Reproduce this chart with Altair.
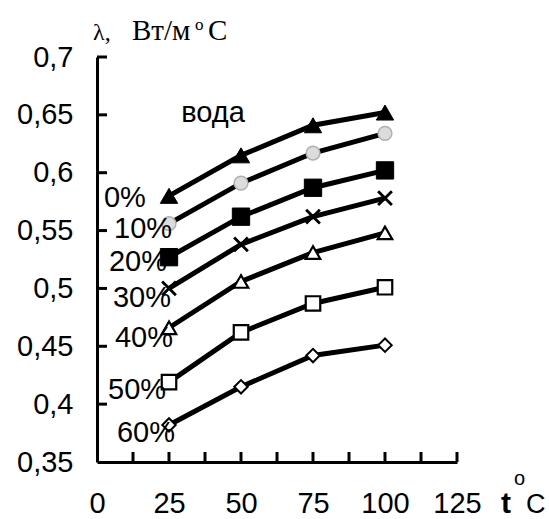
import altair as alt
import pandas as pd

# Thermal conductivity of aqueous solutions vs temperature
temps = [25, 50, 75, 100]
series = ["0%", "10%", "20%", "30%", "40%", "50%", "60%"]
lam_0 = [0.580, 0.615, 0.641, 0.652]
lam_10 = [0.556, 0.591, 0.617, 0.634]
lam_20 = [0.527, 0.562, 0.587, 0.602]
lam_30 = [0.500, 0.538, 0.562, 0.578]
lam_40 = [0.466, 0.506, 0.531, 0.548]
lam_50 = [0.419, 0.462, 0.487, 0.501]
lam_60 = [0.382, 0.415, 0.442, 0.451]
values = [lam_0, lam_10, lam_20, lam_30, lam_40, lam_50, lam_60]

# Curve labels and where they sit (data coordinates)
label_text = ["вода", "0%", "10%", "20%", "30%", "40%", "50%", "60%"]
label_t = [40.3, 9.7, 16.0, 14.2, 15.6, 16.3, 13.9, 17.0]
label_lam = [0.652, 0.578, 0.551, 0.523, 0.492, 0.457, 0.412, 0.375]

x_ticks = [0, 25, 50, 75, 100, 125]
x_minor = [12.5, 25, 37.5, 50, 62.5, 75, 87.5, 100, 112.5, 125]
y_ticks = [0.35, 0.4, 0.45, 0.5, 0.55, 0.6, 0.65, 0.7]

rows = []
for name, vals in zip(series, values):
    for t, v in zip(temps, vals):
        rows.append({"series": name, "t": t, "lam": v})
df = pd.DataFrame(rows)

SANS = "Liberation Sans"
SERIF = "Liberation Serif"
FS = 29

x_scale = alt.Scale(domain=[0, 125], nice=False, zero=False)
y_scale = alt.Scale(domain=[0.35, 0.7], nice=False, zero=False)

x_axis = alt.Axis(values=x_ticks, ticks=False, grid=False, domainWidth=3,
                  domainColor="black", labelFont=SANS, labelFontSize=FS,
                  labelColor="black", labelPadding=27, title=None,
                  labelAlign="center", labelFlush=False, labelOverlap=False)
y_axis = alt.Axis(values=y_ticks, ticks=False, grid=False, domainWidth=3,
                  domainColor="black", labelFont=SANS, labelFontSize=FS,
                  labelColor="black", labelPadding=24, title=None,
                  labelAlign="right", labelBaseline="middle",
                  labelFlush=False, labelOverlap=False,
                  labelExpr="replace(format(datum.value, '.2~f'), '.', ',')")

# inward ticks on both axes
xt = pd.DataFrame({"t": x_minor})
x_tick_rules = alt.Chart(xt).mark_rule(color="black", strokeWidth=3).encode(
    x=alt.X("t:Q", scale=x_scale, axis=x_axis), y=alt.value(405), y2=alt.value(395))
yt = pd.DataFrame({"lam": y_ticks[1:]})
y_tick_rules = alt.Chart(yt).mark_rule(color="black", strokeWidth=3).encode(
    y=alt.Y("lam:Q", scale=y_scale, axis=y_axis), x=alt.value(0), x2=alt.value(10))

base = alt.Chart(df)

lines = base.mark_line(color="black", strokeWidth=5).encode(
    x=alt.X("t:Q", scale=x_scale, axis=x_axis),
    y=alt.Y("lam:Q", scale=y_scale, axis=y_axis),
    detail="series:N")

# marker style per curve
marker = {
    "0%": dict(shape="triangle-up", fill="black", stroke="black", size=300, strokeWidth=1),
    "10%": dict(shape="circle", fill="#dcdcdc", stroke="#b0b0b0", size=190, strokeWidth=1.5),
    "20%": dict(shape="square", fill="black", stroke="black", size=300, strokeWidth=1),
    "30%": dict(shape="M-1,-1L1,1M-1,1L1,-1", fill="none", stroke="black", size=190, strokeWidth=2.8),
    "40%": dict(shape="triangle-up", fill="white", stroke="black", size=210, strokeWidth=2.2),
    "50%": dict(shape="square", fill="white", stroke="black", size=210, strokeWidth=2.2),
    "60%": dict(shape="diamond", fill="white", stroke="black", size=180, strokeWidth=2),
}

point_layers = []
for name in series:
    st = marker[name]
    point_layers.append(
        base.transform_filter(alt.datum.series == name).mark_point(
            shape=st["shape"], fill=st["fill"], stroke=st["stroke"],
            size=st["size"], strokeWidth=st["strokeWidth"], opacity=1,
            fillOpacity=1, filled=st["fill"] != "none",
        ).encode(x=alt.X("t:Q", scale=x_scale), y=alt.Y("lam:Q", scale=y_scale))
    )

labels_df = pd.DataFrame({"text": label_text, "t": label_t, "lam": label_lam})
labels = alt.Chart(labels_df).mark_text(
    font=SANS, fontSize=FS, color="black", align="center", baseline="middle"
).encode(x=alt.X("t:Q", scale=x_scale), y=alt.Y("lam:Q", scale=y_scale), text="text:N")


def note(s, x, y, font, size, weight="normal"):
    return alt.Chart(pd.DataFrame({"s": [s]})).mark_text(
        font=font, fontSize=size, fontWeight=weight, color="black",
        align="left", baseline="alphabetic"
    ).encode(x=alt.value(x), y=alt.value(y), text="s:N")


# axis titles
titles = [
    note("λ,", -4, -17, SERIF, 24),
    note("Вт/м", 35, -17, SERIF, 29),
    note("o", 98, -27, SERIF, 17),
    note("С", 111, -17, SERIF, 29),
    note("t", 404, 456, SANS, 30, "bold"),
    note("o", 417, 428, SANS, 20),
    note("C", 429, 456, SANS, 27),
]

chart = alt.layer(
    x_tick_rules, y_tick_rules, lines, *point_layers, labels, *titles
).properties(
    width=360, height=405,
    padding={"left": 97, "top": 57, "right": 92, "bottom": 57},
    autosize="none", background="white",
).configure_view(stroke=None)

chart.save("out.html", embed_options={"renderer": "svg", "actions": False})
